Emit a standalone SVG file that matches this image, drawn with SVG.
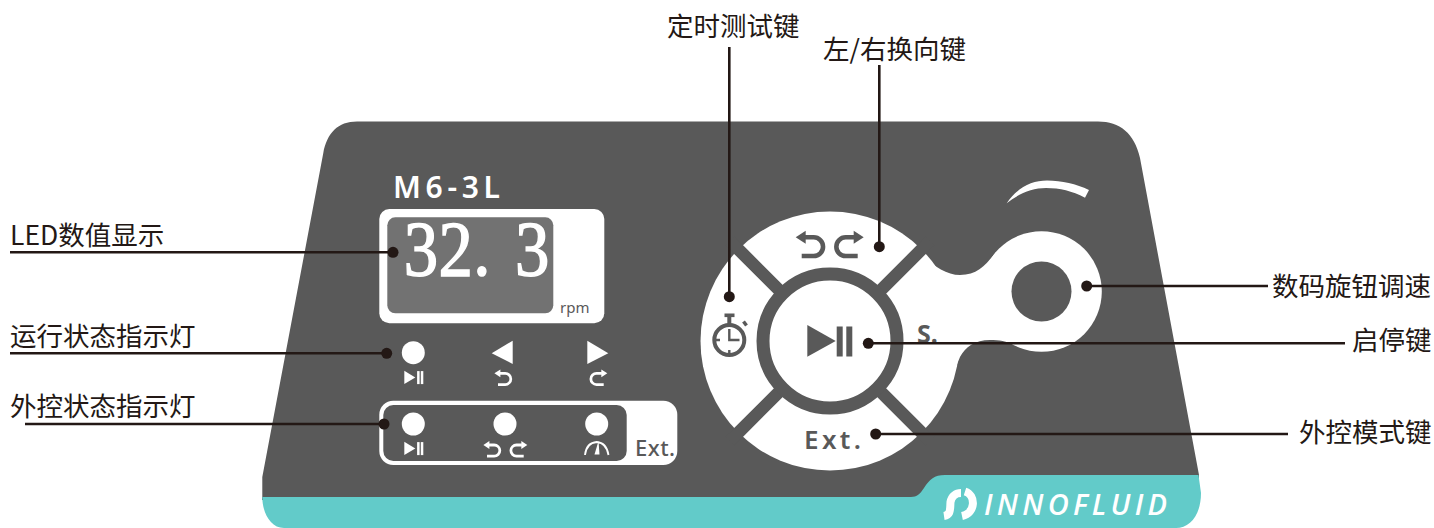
<svg xmlns="http://www.w3.org/2000/svg" width="1434" height="528" viewBox="0 0 1434 528">
<style>
.lbl{font-family:"Noto Sans CJK SC","Noto Sans",sans-serif;font-size:26.5px;fill:#231815}
.g{fill:#595959}.w{fill:#fff}.t{fill:#62cbc9}
.line{fill:none;stroke:#231815;stroke-width:2.6}
.dot{fill:#231815}
.sans{font-family:"Noto Sans",sans-serif}
</style>
<defs>
<g id="turn"><polygon points="-1,0 9,-6.500 9,6.500" fill="currentColor"/><path d="M8,0H17a9.3,9.3 0 0 1 0,18.7H5" fill="none" stroke="currentColor" stroke-width="4.600"/></g>
<g id="pp"><polygon points="0,0 0,13.400 11,6.700" fill="#fff"/><rect x="12.800" y="0.400" width="2.500" height="13" fill="#fff"/><rect x="16.500" y="0.400" width="2.500" height="13" fill="#fff"/></g>
</defs>
<rect width="1434" height="528" fill="#fff"/>
<g id="panel">
<path class="g" d="M262.300,497V477L323.300,153C327,133 338,121.500 357,121.500H1098C1120,121.500 1134,133 1140,158L1199,475V500H262Z"/>
<path class="t" d="M262.300,497H911C917,497 920,494 924,488C930,479 934,475 945,475H1198.500L1201,493C1201,515 1190,528 1176,528H284C270,528 262.300,512 262.300,497Z"/>
</g>
<g id="logo">
<path d="M944,516C951,515 950,509 950.500,502C951.500,496 956,493 961,493" fill="none" stroke="#fff" stroke-width="8"/>
<path d="M965,491.500C976,495 976,513 962,516" fill="none" stroke="#fff" stroke-width="8"/>
<text x="984" y="515" font-family="Open Sans" font-style="italic" font-weight="600" font-size="29" fill="#fff" textLength="183" lengthAdjust="spacing">INNOFLUID</text>
</g>
<g id="display">
<text class="sans w" x="393" y="198" font-size="30" font-weight="600" textLength="107">M6-3L</text>
<rect class="w" x="379.300" y="209" width="225" height="114.300" rx="10"/>
<rect x="387.300" y="217.300" width="166" height="96" rx="8" fill="#727272"/>
<text transform="translate(0,275) scale(.87,1)" y="0" font-family="Liberation Serif" font-size="79" fill="#fff" stroke="#fff" stroke-width="1.500"><tspan x="464">3</tspan><tspan x="504">2</tspan><tspan x="544">.</tspan><tspan x="592">3</tspan></text>
<text class="sans g" x="560" y="313" font-size="15">rpm</text>
</g>
<g id="run-indicators" color="#fff">
<circle class="w" cx="413.300" cy="352.700" r="11.500"/>
<use href="#pp" x="404.300" y="370.700"/>
<polygon class="w" points="491.700,353.300 512.700,340.700 512.700,364"/>
<use href="#turn" transform="translate(495,373.300) scale(.6)"/>
<polygon class="w" points="587.300,340.700 587.300,364 608.300,353.300"/>
<use href="#turn" transform="translate(606.700,373.300) scale(-.6,.6)"/>
</g>
<g id="ext-indicators" color="#fff">
<rect class="w" x="379.300" y="400.700" width="298" height="64.300" rx="14"/>
<rect class="g" x="383.300" y="405" width="243.400" height="56" rx="10"/>
<circle class="w" cx="413.300" cy="424" r="11.500"/>
<circle class="w" cx="505" cy="424" r="11.500"/>
<circle class="w" cx="596.700" cy="424" r="11.500"/>
<use href="#pp" x="404.300" y="441.700"/>
<use href="#turn" transform="translate(484,445) scale(.6)"/>
<use href="#turn" transform="translate(526.700,445) scale(-.6,.6)"/>
<path d="M585,455C586,446 590,442.500 596.800,442C603,442.500 607,446 608.500,455" fill="none" stroke="#fff" stroke-width="1.800"/>
<polygon class="w" points="598.500,441 594.500,454.500 599.500,454.500"/>
<text class="sans g" x="635" y="456" font-size="22" font-weight="500" textLength="40">Ext.</text>
</g>
<g id="wheel">
<circle class="w" cx="830" cy="341" r="129.500"/>
<path class="w" d="M921,255C935,267 947,275 960,275C977,275 985,266 996,252L1041,291L1016,345C1005,341 1000,340 990,340C975,340 965,347 960,357C952,375 950,395 923,427L830,341Z"/>
<path d="M730,241L930,441M930,241L730,441" stroke="#595959" stroke-width="12.500" fill="none"/>
<circle class="w" cx="830" cy="341" r="67" stroke="#595959" stroke-width="13"/>
<g color="#595959">
<use href="#turn" transform="translate(796.700,237.300)"/>
<use href="#turn" transform="translate(862.700,237.300) scale(-1,1)"/>
</g>
<polygon class="g" points="807.300,325 807.300,356.700 835.700,341"/>
<rect class="g" x="836.700" y="326.500" width="6" height="30"/>
<rect class="g" x="846.300" y="326.500" width="6" height="30"/>
<text class="sans g" x="804" y="449.300" font-size="26" font-weight="600" letter-spacing="3.400">Ext.</text>
<text class="sans g" x="917" y="342.500" font-size="25" font-weight="700">S.</text>
<g id="timer-icon" fill="none" stroke="#595959">
<circle cx="729.300" cy="340" r="15" stroke-width="4"/>
<rect x="724.500" y="313.500" width="10" height="3.600" fill="#595959" stroke="none"/>
<path d="M729.300,316V324" stroke-width="4"/>
<path d="M743.500,321.500L746.500,325.500" stroke-width="3.400"/>
<path d="M729.300,329V340H739.500M729.300,350V355M715,340H720" stroke-width="2.400"/>
</g>
</g>
<g id="knob">
<circle class="w" cx="1041.500" cy="291.500" r="60.300"/>
<circle class="g" cx="1041.500" cy="291.500" r="30"/>
<path class="w" d="M1006.700,203.300C1018,187 1032,180.500 1047,180.500C1062,180.500 1076,184 1089,190L1085,197.700C1072,191 1060,188 1046,188C1032,188 1018,194 1006.700,203.300Z"/>
</g>
<g id="connectors">
<path class="line" d="M10,252.300H393"/><circle class="dot" cx="393" cy="252.300" r="5.500"/>
<path class="line" d="M10,353.300H386.700"/><circle class="dot" cx="386.700" cy="353.300" r="5.500"/>
<path class="line" d="M25,424H384"/><circle class="dot" cx="384" cy="424" r="5.500"/>
<path class="line" d="M729.300,47V296.700"/><circle class="dot" cx="729.300" cy="296.700" r="5.500"/>
<path class="line" d="M879.300,65V246.700"/><circle class="dot" cx="879.300" cy="246.700" r="5.500"/>
<path class="line" d="M1086.700,286H1268"/><circle class="dot" cx="1086.700" cy="286" r="5.500"/>
<path class="line" d="M868.300,343.300H1345"/><circle class="dot" cx="868.300" cy="343.300" r="5.500"/>
<path class="line" d="M875.700,434H1288"/><circle class="dot" cx="875.700" cy="434" r="5.500"/>
</g>
<g id="labels">
<text class="lbl" x="667" y="36">定时测试键</text>
<text class="lbl" x="823" y="59">左/右换向键</text>
<text class="lbl" x="10" y="245">LED数值显示</text>
<text class="lbl" x="10" y="346">运行状态指示灯</text>
<text class="lbl" x="10" y="416">外控状态指示灯</text>
<text class="lbl" x="1272" y="296">数码旋钮调速</text>
<text class="lbl" x="1352" y="350">启停键</text>
<text class="lbl" x="1299" y="442">外控模式键</text>
</g>
</svg>
